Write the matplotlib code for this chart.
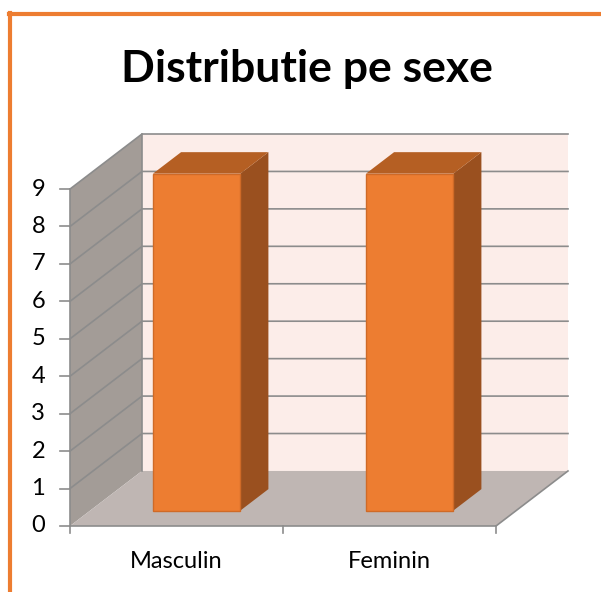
import matplotlib.pyplot as plt
from matplotlib.patches import Polygon
from matplotlib.lines import Line2D

categories = ['Masculin', 'Feminin']
values = [9, 9]
y_ticks = list(range(0, 10))
title = 'Distributie pe sexe'

# oblique projection for the fake 3D look (depth 0 = front, 1 = back)
DX, DY = 0.338, 1.47


def proj(x, y, d):
    return (x + d * DX, y + d * DY)


def face(ax, pts, color, ec='none', lw=0, z=1):
    ax.add_patch(Polygon([proj(*p) for p in pts], closed=True, facecolor=color,
                         edgecolor=ec, linewidth=lw, zorder=z))


fig = plt.figure(figsize=(6.01, 5.92), dpi=100)
ax = fig.add_axes([0, 0, 1, 1])
px_x, px_y = 213.0, 37.44
ax.set_xlim(-70 / px_x, (601 - 70) / px_x)
ax.set_ylim(-(592 - 526) / px_y, 526 / px_y)
ax.axis('off')

n = len(categories)
ymax = max(y_ticks)
grid_c = '#8c8c8c'

# walls and floor
face(ax, [(0, 0, 1), (n, 0, 1), (n, ymax, 1), (0, ymax, 1)], '#fcede9', z=1)
face(ax, [(0, 0, 0), (0, 0, 1), (0, ymax, 1), (0, ymax, 0)], '#a39c97', z=1)
face(ax, [(0, 0, 0), (n, 0, 0), (n, 0, 1), (0, 0, 1)], '#bfb6b3', z=1)

for k in y_ticks:
    a, b, c = proj(0, k, 0), proj(0, k, 1), proj(n, k, 1)
    if k > 0:
        ax.plot([a[0], b[0], c[0]], [a[1], b[1], c[1]], color=grid_c, lw=1.2, zorder=2)
    # tick mark and label on the front edge
    ax.plot([a[0] - 10 / px_x, a[0]], [a[1], a[1]], color=grid_c, lw=1.2, zorder=2)
    ax.text(a[0] - 25 / px_x, a[1], str(k), ha='right', va='center',
            fontsize=17, family='Lato', color='black')

# frame edges
for pts in ([(0, 0, 0), (0, ymax, 0)], [(0, 0, 0), (n, 0, 0), (n, 0, 1)],
            [(0, 0, 1), (0, ymax, 1)]):
    xs, ys = zip(*[proj(*p) for p in pts])
    ax.plot(xs, ys, color=grid_c, lw=1.2, zorder=2)

for i in range(n + 1):
    ax.plot([i, i], [0, -7 / px_y], color=grid_c, lw=1.2, zorder=2)

# bars
w, d0, d1 = 0.41, 0.28, 0.67
for i, (cat, v) in enumerate(zip(categories, values)):
    x0, x1 = i + 0.5 - w / 2, i + 0.5 + w / 2
    face(ax, [(x1, 0, d0), (x1, 0, d1), (x1, v, d1), (x1, v, d0)], '#9a501f', z=3)
    face(ax, [(x0, v, d0), (x1, v, d0), (x1, v, d1), (x0, v, d1)], '#b55f23', z=3)
    face(ax, [(x0, 0, d0), (x1, 0, d0), (x1, v, d0), (x0, v, d0)], '#ed7d31',
         ec='#cf6a27', lw=1, z=4)
    ax.text(i + 0.5, -36 / px_y, cat, ha='center', va='center',
            fontsize=17, family='Lato', color='black')

fig.text(307 / 601, 1 - 69 / 592, title, ha='center', va='center',
         fontsize=32, fontweight='bold', family='Lato')

# orange chart border (only top and left visible)
fig.add_artist(Line2D([9 / 601, 1], [1 - 14 / 592] * 2, color='#ed7d31', lw=3,
                      transform=fig.transFigure))
fig.add_artist(Line2D([10 / 601] * 2, [0, 1 - 13 / 592], color='#ed7d31', lw=3,
                      transform=fig.transFigure))

fig.savefig('out.png', dpi=100)
